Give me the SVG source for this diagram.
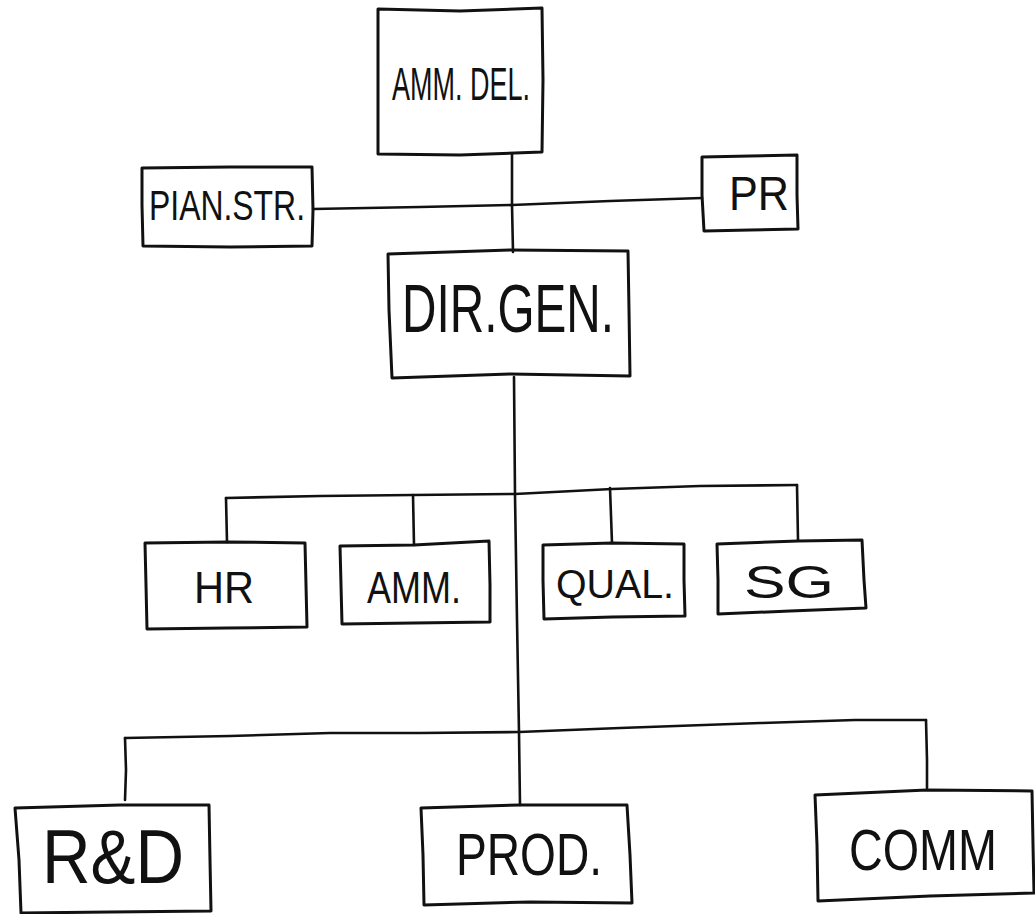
<svg xmlns="http://www.w3.org/2000/svg" width="1035" height="914" viewBox="0 0 1035 914">
  <style>
    .box { fill: none; stroke: #111; stroke-width: 3; stroke-linejoin: round; stroke-linecap: round; }
    .wire { fill: none; stroke: #111; stroke-width: 2.6; stroke-linecap: round; stroke-linejoin: round; }
    .lbl { font-family: "Liberation Sans", "DejaVu Sans", sans-serif; fill: #111; lengthAdjust: spacingAndGlyphs; }
  </style>
  <rect width="1035" height="914" fill="#ffffff"/>

  <!-- connectors -->
  <g id="connectors">
    <!-- AMM.DEL. down to DIR.GEN. -->
    <path class="wire" d="M512,154 L512,205 L513,252"/>
    <!-- staff branch: PIAN.STR. and PR -->
    <path class="wire" d="M313,209 L420,207 L512,205 L610,201 L702,198"/>
    <!-- DIR.GEN. main trunk down to PROD. -->
    <path class="wire" d="M514,377 L515,495 L517,620 L519,733 L520,805"/>
    <!-- first level bar -->
    <path class="wire" d="M226,498 L320,496 L413,495 L515,494 L612,489 L700,486 L797,485"/>
    <path class="wire" d="M226,498 L227,542"/>
    <path class="wire" d="M413,495 L414,545"/>
    <path class="wire" d="M610,488 L612,543"/>
    <path class="wire" d="M797,485 L798,540"/>
    <!-- second level bar -->
    <path class="wire" d="M125,738 L230,736 L330,733 L420,733 L519,732 L620,728 L760,723 L855,720 L926,720"/>
    <path class="wire" d="M125,738 L126,770 L125,800"/>
    <path class="wire" d="M926,720 L927,760 L927,788"/>
  </g>

  <!-- nodes -->
  <g id="amm-del">
    <path class="box" d="M378,9 L460,11 L542,8 L543,80 L542,152 L460,155 L378,154 L378,80 Z"/>
    <text class="lbl" x="392" y="100" font-size="46" textLength="138" lengthAdjust="spacingAndGlyphs">AMM. DEL.</text>
  </g>

  <g id="pian-str">
    <path class="box" d="M142,168 L230,167 L312,167 L313,210 L312,246 L230,247 L143,246 L142,205 Z"/>
    <text class="lbl" x="149" y="220" font-size="42" textLength="156" lengthAdjust="spacingAndGlyphs">PIAN.STR.</text>
  </g>

  <g id="pr">
    <path class="box" d="M702,157 L750,156 L797,155 L797,195 L798,229 L750,230 L704,231 L702,195 Z"/>
    <text class="lbl" x="729" y="210" font-size="48" textLength="60" lengthAdjust="spacingAndGlyphs">PR</text>
  </g>

  <g id="dir-gen">
    <path class="box" d="M388,254 L510,250 L628,251 L629,310 L630,376 L510,374 L392,378 L389,310 Z"/>
    <text class="lbl" x="402" y="332" font-size="68" textLength="212" lengthAdjust="spacingAndGlyphs">DIR.GEN.</text>
  </g>

  <g id="hr">
    <path class="box" d="M145,543 L227,542 L305,543 L306,585 L307,627 L227,628 L147,629 L146,585 Z"/>
    <text class="lbl" x="194" y="603" font-size="44" textLength="60" lengthAdjust="spacingAndGlyphs">HR</text>
  </g>

  <g id="amm">
    <path class="box" d="M340,546 L414,545 L489,541 L490,585 L490,622 L414,623 L342,624 L341,585 Z"/>
    <text class="lbl" x="367" y="603" font-size="44" textLength="94" lengthAdjust="spacingAndGlyphs">AMM.</text>
  </g>

  <g id="qual">
    <path class="box" d="M543,545 L612,543 L684,544 L684,580 L685,616 L612,617 L544,619 L543,580 Z"/>
    <text class="lbl" x="556" y="598" font-size="40" textLength="118" lengthAdjust="spacingAndGlyphs">QUAL.</text>
  </g>

  <g id="sg">
    <path class="box" d="M717,544 L798,541 L862,540 L864,580 L866,608 L790,611 L718,614 L718,580 Z"/>
    <text class="lbl" x="744" y="598" font-size="46" textLength="90" lengthAdjust="spacingAndGlyphs">SG</text>
  </g>

  <g id="r-and-d">
    <path class="box" d="M15,808 L120,805 L209,805 L210,860 L211,911 L110,912 L21,913 L19,860 Z"/>
    <text class="lbl" x="42" y="883" font-size="76" textLength="142" lengthAdjust="spacingAndGlyphs">R&amp;D</text>
  </g>

  <g id="prod">
    <path class="box" d="M421,808 L520,805 L627,805 L630,855 L632,903 L530,902 L424,905 L423,855 Z"/>
    <text class="lbl" x="456" y="875" font-size="60" textLength="146" lengthAdjust="spacingAndGlyphs">PROD.</text>
  </g>

  <g id="comm">
    <path class="box" d="M815,795 L927,790 L1032,791 L1033,845 L1034,893 L930,896 L818,901 L817,845 Z"/>
    <text class="lbl" x="849" y="870" font-size="58" textLength="148" lengthAdjust="spacingAndGlyphs">COMM</text>
  </g>
</svg>
